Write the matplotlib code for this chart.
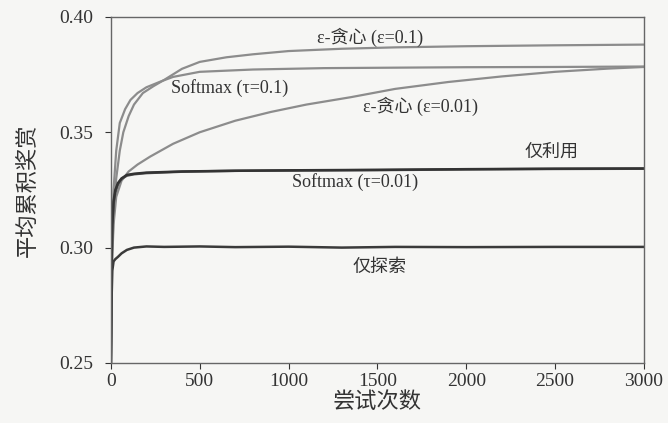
import matplotlib
matplotlib.use('Agg')
from matplotlib import pyplot as plt
import numpy as np

plt.rcParams['font.family'] = ['Liberation Serif', 'Noto Sans CJK SC']

# readings (trial count, average cumulative reward)
steps_eps01 = [0, 5, 15, 30, 50, 70, 100, 130, 180, 240, 300, 400, 500, 650, 800, 1000, 1300, 1600, 2000, 2500, 3000]
eps01 = [0.25, 0.29, 0.315, 0.330, 0.342, 0.350, 0.357, 0.362, 0.367, 0.370, 0.3727, 0.3775, 0.3805, 0.3825,
         0.3838, 0.3852, 0.3862, 0.3868, 0.3873, 0.3877, 0.388]

steps_soft01 = [0, 5, 15, 30, 50, 80, 110, 150, 200, 280, 350, 500, 800, 1200, 1600, 2000, 2500, 3000]
soft01 = [0.25, 0.30, 0.325, 0.342, 0.354, 0.360, 0.364, 0.367, 0.3695, 0.372, 0.374, 0.3762, 0.3772,
          0.3778, 0.378, 0.3782, 0.3783, 0.3785]

steps_eps001 = [0, 5, 15, 30, 60, 100, 150, 220, 350, 500, 700, 900, 1100, 1350, 1600, 1900, 2200, 2500, 2800, 3000]
eps001 = [0.25, 0.29, 0.31, 0.322, 0.329, 0.333, 0.336, 0.3394, 0.345, 0.350, 0.355, 0.3588, 0.362, 0.3652,
          0.3688, 0.3718, 0.3742, 0.3762, 0.3776, 0.3783]

steps_exploit = [0, 3, 8, 15, 25, 40, 60, 90, 130, 200, 400, 700, 1000, 1500, 2000, 2500, 3000]
exploit = [0.25, 0.29, 0.31, 0.320, 0.325, 0.328, 0.330, 0.3315, 0.332, 0.3325, 0.333, 0.3333, 0.3335,
           0.3337, 0.334, 0.3342, 0.3343]
soft001 = [0.25, 0.288, 0.309, 0.319, 0.324, 0.3275, 0.3298, 0.3312, 0.3318, 0.3323, 0.3329, 0.3333, 0.3334,
           0.3336, 0.3339, 0.3341, 0.3342]

steps_explore = [0, 3, 8, 15, 25, 40, 60, 90, 130, 200, 300, 500, 700, 1000, 1300, 1600, 2000, 2500, 3000]
explore = [0.25, 0.275, 0.29, 0.294, 0.295, 0.296, 0.2975, 0.299, 0.300, 0.3005, 0.3003, 0.3005, 0.3002,
           0.3004, 0.3000, 0.3003, 0.3002, 0.3003, 0.3003]

x_ticks = [0, 500, 1000, 1500, 2000, 2500, 3000]
y_ticks = [0.25, 0.30, 0.35, 0.40]

fig = plt.figure(figsize=(6.68, 4.23), dpi=100)
fig.patch.set_facecolor('#f6f6f4')
ax = fig.add_axes([0.166, 0.142, 0.798, 0.818])
ax.set_facecolor('#f6f6f4')

gray = '#8c8c8c'
ax.plot(steps_eps01, eps01, color=gray, lw=1.6)
ax.plot(steps_soft01, soft01, color=gray, lw=1.6)
ax.plot(steps_eps001, eps001, color=gray, lw=1.6)
ax.plot(steps_exploit, soft001, color='#555555', lw=1.8)
ax.plot(steps_exploit, exploit, color='#333333', lw=1.8)
ax.plot(steps_explore, explore, color='#3a3a3a', lw=1.8)

ax.set_xlim(0, 3000)
ax.set_ylim(0.25, 0.40)
ax.set_xticks(x_ticks)
ax.set_yticks(y_ticks)
ax.set_yticklabels([f'{v:.2f}' for v in y_ticks])
ax.tick_params(labelsize=14, colors='#333333', length=4, width=0.8)
ax.tick_params(axis='y', pad=9)
ax.tick_params(axis='x', pad=3)
for s in ax.spines.values():
    s.set_color('#666666')
    s.set_linewidth(1.0)

lab = dict(fontsize=13, color='#333333')
ax.text(1458, 0.3912, 'ε-贪心 (ε=0.1)', ha='center', va='center', **lab)
ax.text(670, 0.3693, 'Softmax (τ=0.1)', ha='center', va='center', **lab)
ax.text(1740, 0.3612, 'ε-贪心 (ε=0.01)', ha='center', va='center', **lab)
ax.text(2480, 0.3412, '仅利用', ha='center', va='center', **lab)
ax.text(1373, 0.3285, 'Softmax (τ=0.01)', ha='center', va='center', **lab)
ax.text(1514, 0.2913, '仅探索', ha='center', va='center', **lab)

ax.set_xlabel('尝试次数', fontsize=16, color='#333333', labelpad=2)
ax.set_ylabel('平均累积奖赏', fontsize=16, color='#333333', labelpad=14)

fig.savefig('out.png', dpi=100, facecolor=fig.get_facecolor())
